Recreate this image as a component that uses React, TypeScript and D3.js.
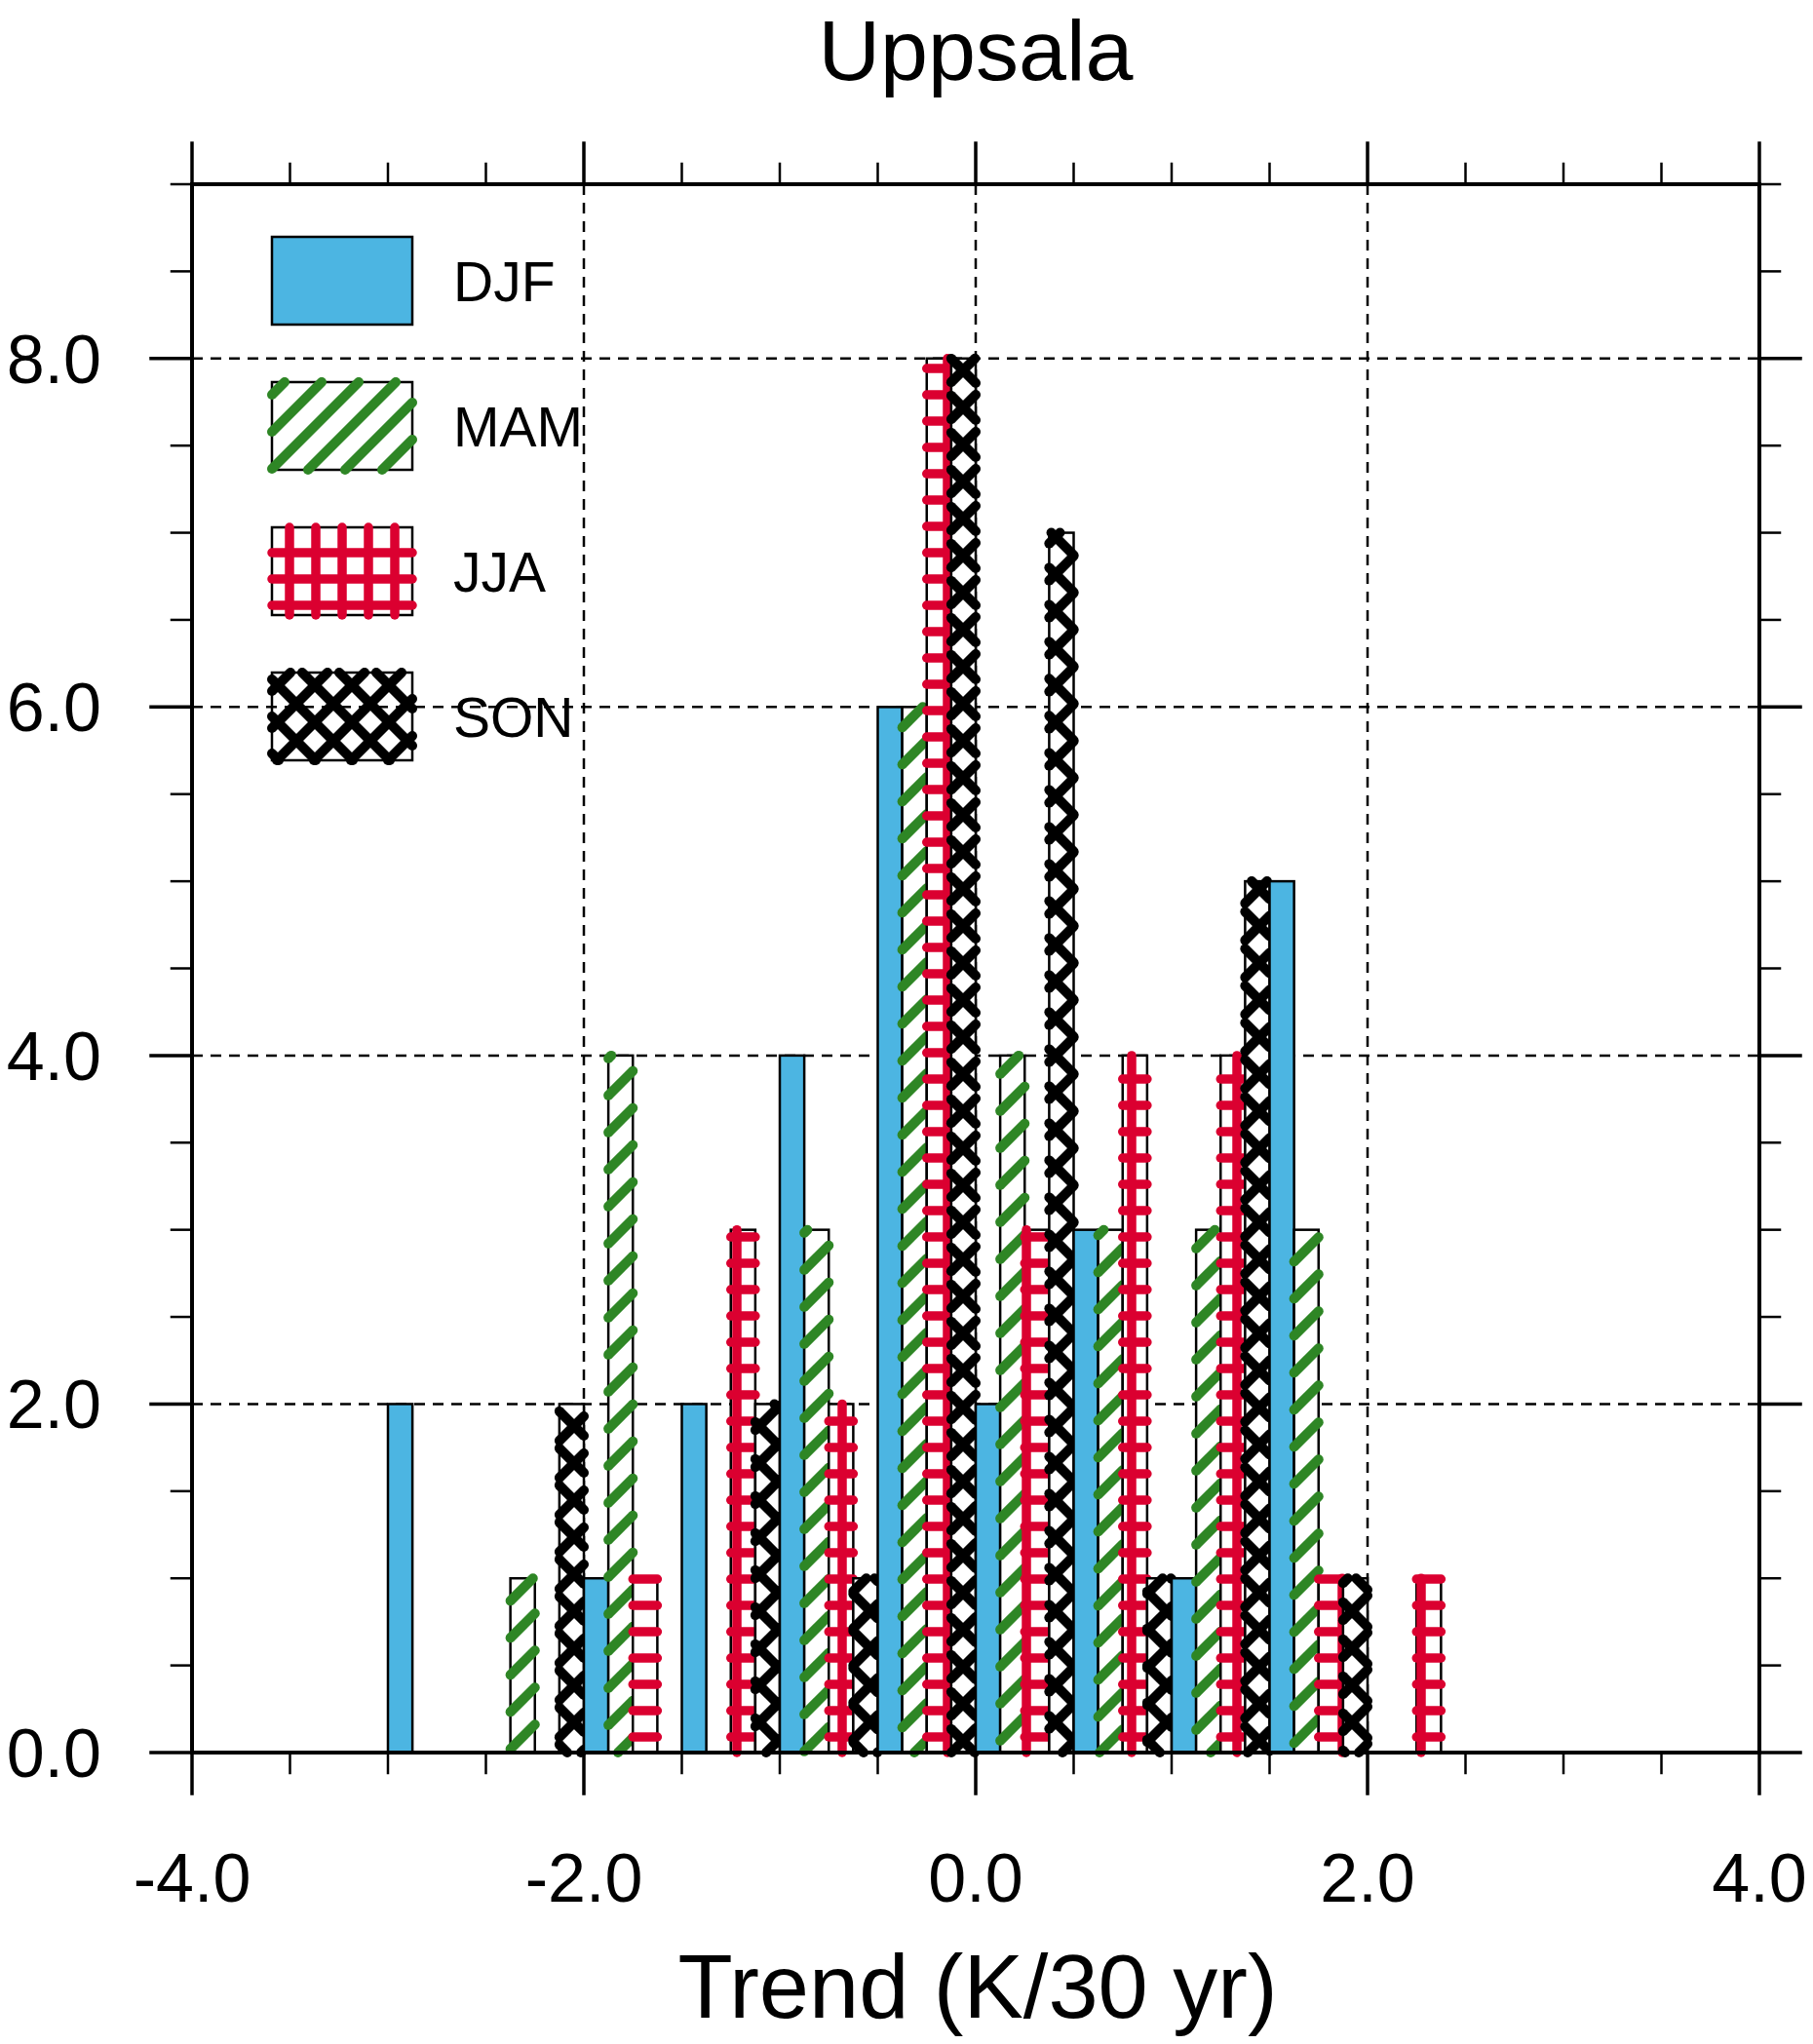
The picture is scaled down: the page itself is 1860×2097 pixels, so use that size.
import { useEffect, useRef } from "react";
import * as d3 from "d3";

// bin start of each group of four bars (K/30 yr)
const binStarts = [-3.0, -2.5, -2.0, -1.5, -1.0, -0.5, 0.0, 0.5, 1.0, 1.5, 2.0];
const djf = [2, 0, 1, 2, 4, 6, 2, 3, 1, 5, 0];
const mam = [0, 1, 4, 0, 3, 6, 4, 3, 3, 3, 0];
const jja = [0, 0, 1, 3, 2, 8, 3, 4, 4, 1, 1];
const son = [0, 2, 0, 2, 1, 8, 7, 1, 5, 1, 0];
const seasons = ["DJF", "MAM", "JJA", "SON"];

const xMajor = [-4, -2, 0, 2, 4];
const yMajor = [0, 2, 4, 6, 8];
const barWidth = 0.125;

type Family = "v" | "h" | "d1" | "d2";
interface Style {
  fill: string;
  hatch?: { families: Family[]; spacing: number; width: number; color: string };
}

const styles: Style[] = [
  { fill: "#4cb5e2" },
  { fill: "#ffffff", hatch: { families: ["d1"], spacing: 38, width: 10, color: "#2e8625" } },
  { fill: "#ffffff", hatch: { families: ["v", "h"], spacing: 27, width: 9.5, color: "#db0030" } },
  { fill: "#ffffff", hatch: { families: ["d1", "d2"], spacing: 38, width: 10, color: "#000000" } },
];

// hatch lines anchored to the page, clipped to the rectangle
function hatchSegments(x0: number, y0: number, x1: number, y1: number, fam: Family, s: number) {
  const segs: [number, number, number, number][] = [];
  if (fam === "v") {
    for (let k = Math.ceil(x0 / s); k * s <= x1; k++) segs.push([k * s, y0, k * s, y1]);
  } else if (fam === "h") {
    for (let k = Math.ceil(y0 / s); k * s <= y1; k++) segs.push([x0, k * s, x1, k * s]);
  } else if (fam === "d1") {
    for (let k = Math.ceil((x0 + y0) / s); k * s <= x1 + y1; k++) {
      const c = k * s;
      const lo = Math.max(x0, c - y1);
      const hi = Math.min(x1, c - y0);
      if (hi >= lo) segs.push([lo, c - lo, hi, c - hi]);
    }
  } else {
    for (let k = Math.ceil((x0 - y1) / s); k * s <= x1 - y0; k++) {
      const c = k * s;
      const lo = Math.max(x0, c + y0);
      const hi = Math.min(x1, c + y1);
      if (hi >= lo) segs.push([lo, lo - c, hi, hi - c]);
    }
  }
  return segs;
}

function drawBox(
  g: d3.Selection<SVGGElement, unknown, null, undefined>,
  x0: number,
  y0: number,
  x1: number,
  y1: number,
  st: Style
) {
  g.append("rect")
    .attr("x", x0)
    .attr("y", y0)
    .attr("width", x1 - x0)
    .attr("height", y1 - y0)
    .attr("fill", st.fill)
    .attr("stroke", "#000")
    .attr("stroke-width", 2.5);
  if (!st.hatch) return;
  const h = st.hatch;
  h.families.forEach((fam) => {
    hatchSegments(x0, y0, x1, y1, fam, h.spacing).forEach(([ax, ay, bx, by]) => {
      g.append("line")
        .attr("x1", ax)
        .attr("y1", ay)
        .attr("x2", bx)
        .attr("y2", by)
        .attr("stroke", h.color)
        .attr("stroke-width", h.width)
        .attr("stroke-linecap", "round");
    });
  });
}

export default function App() {
  const svgRef = useRef<SVGSVGElement>(null);

  useEffect(() => {
    document.body.style.margin = "0";
    if (!svgRef.current) return;
    const svg = d3.select(svgRef.current);
    svg.selectAll("*").remove();

    const x = d3.scaleLinear().domain([-4, 4]).range([197, 1805]);
    const y = d3.scaleLinear().domain([0, 9]).range([1798, 189]);
    const font = "'Liberation Sans', Arial, Helvetica, sans-serif";
    const series = [djf, mam, jja, son];

    // Legend
    const legend = svg.append("g");
    seasons.forEach((name, i) => {
      const top = 243 + i * 149;
      drawBox(legend, 279, top, 423, top + 90, styles[i]);
      legend
        .append("text")
        .attr("x", 465)
        .attr("y", top + 66)
        .attr("font-family", font)
        .attr("font-size", 57)
        .text(name);
    });

    // Grid lines
    const grid = svg.append("g").attr("stroke", "#000").attr("stroke-width", 2.5).attr("stroke-dasharray", "11,8");
    [-2, 0, 2].forEach((v) => {
      grid.append("line").attr("x1", x(v)).attr("x2", x(v)).attr("y1", y(9)).attr("y2", y(0));
    });
    [2, 4, 6, 8].forEach((v) => {
      grid.append("line").attr("x1", x(-4)).attr("x2", x(4)).attr("y1", y(v)).attr("y2", y(v));
    });

    // Bars
    const bars = svg.append("g");
    binStarts.forEach((b, bi) => {
      series.forEach((vals, si) => {
        const v = vals[bi];
        if (!v) return;
        const xl = x(b + si * barWidth);
        const xr = x(b + (si + 1) * barWidth);
        drawBox(bars, xl, y(v), xr, y(0), styles[si]);
      });
    });

    // Frame and ticks
    const axes = svg.append("g").attr("stroke", "#000").attr("stroke-linecap", "square");
    const xMinor = d3.range(-3.5, 4, 0.5).filter((v) => !xMajor.includes(v));
    const yMinor = d3.range(0.5, 9.01, 0.5).filter((v) => !yMajor.includes(v));
    xMajor.forEach((v) => {
      axes.append("line").attr("x1", x(v)).attr("x2", x(v)).attr("y1", y(0)).attr("y2", y(0) + 42).attr("stroke-width", 3.5);
      axes.append("line").attr("x1", x(v)).attr("x2", x(v)).attr("y1", y(9)).attr("y2", y(9) - 42).attr("stroke-width", 3.5);
    });
    xMinor.forEach((v) => {
      axes.append("line").attr("x1", x(v)).attr("x2", x(v)).attr("y1", y(0)).attr("y2", y(0) + 21).attr("stroke-width", 2.5);
      axes.append("line").attr("x1", x(v)).attr("x2", x(v)).attr("y1", y(9)).attr("y2", y(9) - 21).attr("stroke-width", 2.5);
    });
    yMajor.forEach((v) => {
      axes.append("line").attr("x1", x(-4)).attr("x2", x(-4) - 42).attr("y1", y(v)).attr("y2", y(v)).attr("stroke-width", 3.5);
      axes.append("line").attr("x1", x(4)).attr("x2", x(4) + 42).attr("y1", y(v)).attr("y2", y(v)).attr("stroke-width", 3.5);
    });
    yMinor.forEach((v) => {
      axes.append("line").attr("x1", x(-4)).attr("x2", x(-4) - 21).attr("y1", y(v)).attr("y2", y(v)).attr("stroke-width", 2.5);
      axes.append("line").attr("x1", x(4)).attr("x2", x(4) + 21).attr("y1", y(v)).attr("y2", y(v)).attr("stroke-width", 2.5);
    });
    axes
      .append("rect")
      .attr("x", x(-4))
      .attr("y", y(9))
      .attr("width", x(4) - x(-4))
      .attr("height", y(0) - y(9))
      .attr("fill", "none")
      .attr("stroke-width", 4);

    // Tick labels (plain hyphen for the minus sign, as in the original)
    const fmt = (d: number) => d3.format(".1f")(d).replace("\u2212", "-");
    svg
      .append("g")
      .selectAll("text")
      .data(xMajor)
      .join("text")
      .attr("x", (d) => x(d))
      .attr("y", 1951)
      .attr("text-anchor", "middle")
      .attr("font-family", font)
      .attr("font-size", 70)
      .text((d) => fmt(d));
    svg
      .append("g")
      .selectAll("text")
      .data(yMajor)
      .join("text")
      .attr("x", 104)
      .attr("y", (d) => y(d) + 25)
      .attr("text-anchor", "end")
      .attr("font-family", font)
      .attr("font-size", 70)
      .text((d) => fmt(d));

    // Titles
    svg
      .append("text")
      .attr("x", 1001)
      .attr("y", 82)
      .attr("text-anchor", "middle")
      .attr("font-family", font)
      .attr("font-size", 88)
      .text("Uppsala");
    svg
      .append("text")
      .attr("x", 1003)
      .attr("y", 2070)
      .attr("text-anchor", "middle")
      .attr("font-family", font)
      .attr("font-size", 92)
      .text("Trend (K/30 yr)");
  }, []);

  return <svg ref={svgRef} width={1860} height={2097} style={{ display: "block", background: "#fff" }} />;
}
